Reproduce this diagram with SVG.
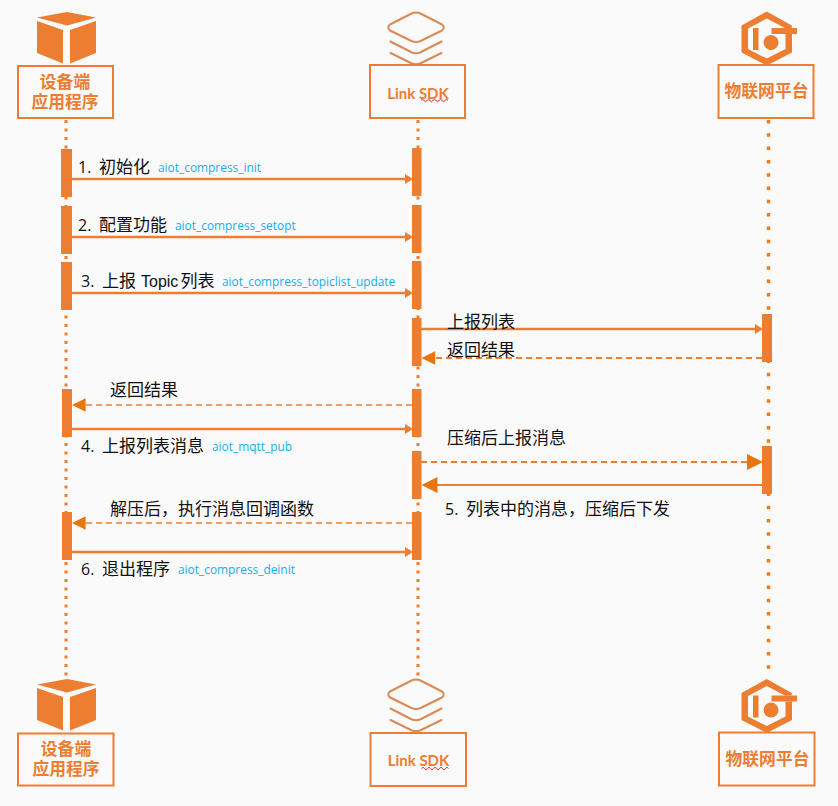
<svg xmlns="http://www.w3.org/2000/svg" width="838" height="806" viewBox="0 0 838 806">
<style>
.box{fill:none;stroke:#ed7d31;stroke-width:2}
.name{font:bold 16.800px "Liberation Sans","Noto Sans CJK SC",sans-serif;fill:#ed7d31;text-anchor:middle}
.sdk{font:bold 15px Lato,"Open Sans",sans-serif;fill:#ed7d31;text-anchor:middle}
.life{fill:none;stroke:#ed7d31;stroke-width:3;stroke-dasharray:3 5.500}
.life-far{fill:none;stroke:#f27c1c;stroke-width:3.500;stroke-dasharray:3.500 9.800}
.act{fill:#ed7d31}
.msg{fill:none;stroke:#ed7d31;stroke-width:2.500}
.ret{fill:none;stroke:#ed7d31;stroke-width:1.600;stroke-dasharray:6 4}
.lbl{font:17px "Noto Sans CJK SC",sans-serif;fill:#111}
.num{font:16px "Open Sans",sans-serif;fill:#111}
.latin{font:16px "Liberation Sans",sans-serif;fill:#111}
.api{font:11.900px "Open Sans",sans-serif;fill:#18aeee}
.ink{fill:#ed7d31}
.stack{fill:none;stroke:#d98a55;stroke-width:2;stroke-linejoin:round;stroke-linecap:round}
.wavy{fill:none;stroke:#e8262a;stroke-width:1}
</style>
<defs>
<path id="sm" d="M0 0l-8-5v10z" fill="#ed7d31"/>
<path id="big" d="M0 0l-16-8v16z" fill="#e8760a"/>
<g id="cube" class="ink">
<path d="M37 17.500L67 12L96 17.500L67 25.500Z"/>
<path d="M37 21L63 30V63.500L37 53Z"/>
<path d="M70 30L96 21V53L70 63.500Z"/>
</g>
<g id="layers" class="stack">
<path d="M411.500 13.500Q416 11.500 420.500 13.500L442 24.500Q445.500 27.500 442 30.500L420.500 41Q416 43 411.500 41L390 30.500Q386.500 27.500 390 24.500Z"/>
<path d="M390.500 41.500L412 52.500Q416 54 420 52.500L441.500 41.500"/>
<path d="M390.500 53L412 63.500Q416 65 420 63.500L441.500 53"/>
</g>
<g id="iot" class="ink">
<path d="M766.700 11.500L791.800 25.500V28H785L766.700 18.500L748 28.500V49L766.700 58.500L785.500 49V34H792V52.500L766.700 65.500L741.500 52.500V25.500Z"/>
<path d="M753 28H758.500V50H753Z"/>
<path d="M771.500 28H797V34H771.500Z"/>
<circle cx="771" cy="42.500" r="7.500"/>
</g>
<path id="wave" class="wavy" d="M0 1.500q1.500-2.500 3 0t3 0t3 0t3 0t3 0t3 0t3 0t3 0t3 0"/>
</defs>

<rect width="838" height="806" fill="#fafafa"/>

<g id="connectors">
<path class="life" d="M66 120V680"/>
<path class="life" d="M418 120V678"/>
<g id="activations" class="act">
<rect x="61" y="149" width="11" height="48"/>
<rect x="61" y="206" width="11" height="48"/>
<rect x="61" y="262" width="11" height="48"/>
<rect x="62" y="389" width="10" height="48"/>
<rect x="62" y="512" width="10" height="48"/>
<rect x="412" y="148" width="9.500" height="48"/>
<rect x="412" y="205" width="9.500" height="48"/>
<rect x="412" y="261" width="9.500" height="48"/>
<rect x="412" y="318" width="9.500" height="48"/>
<rect x="412" y="389" width="9.500" height="48"/>
<rect x="412" y="451" width="9.500" height="48"/>
<rect x="412" y="512" width="9.500" height="48"/>
<rect x="762" y="314" width="10" height="48"/>
<rect x="762" y="446" width="10" height="48"/>
</g>
<path class="life-far" d="M768.500 120V678"/>
<path class="msg" d="M72 179H406"/><use href="#sm" x="413" y="179"/>
<path class="msg" d="M72 237H406"/><use href="#sm" x="413" y="237"/>
<path class="msg" d="M72 293H406"/><use href="#sm" x="413" y="293"/>
<path class="msg" d="M421 329H756"/><use href="#sm" x="763" y="329"/>
<path class="ret" style="stroke-width:2" d="M762 358H434"/><use href="#big" transform="translate(421.500 358) rotate(180) scale(.85)"/>
<path class="ret" d="M412 405H86"/><use href="#big" transform="translate(72 405) rotate(180) scale(.85)"/>
<path class="msg" d="M72 429H406"/><use href="#sm" x="413" y="429"/>
<path class="ret" style="stroke-width:2" d="M421 462H748"/><use href="#big" x="763" y="462"/>
<path class="msg" style="stroke-width:2" d="M762 485H436"/><use href="#big" transform="translate(421.500 485) rotate(180)"/>
<path class="ret" d="M412 523H86"/><use href="#big" transform="translate(72 523) rotate(180) scale(.85)"/>
<path class="msg" d="M72 552H406"/><use href="#sm" x="413" y="552"/>
</g>

<g id="device-top">
<use href="#cube"/>
<rect class="box" x="18" y="66" width="95" height="52"/>
<text class="name"><tspan x="65" y="88">设备端</tspan><tspan x="65" y="108">应用程序</tspan></text>
</g>
<g id="sdk-top">
<use href="#layers"/>
<rect class="box" x="370" y="65" width="95" height="53"/>
<text class="sdk" x="418" y="99">Link SDK</text>
<use href="#wave" x="421" y="99"/>
</g>
<g id="platform-top">
<use href="#iot"/>
<rect class="box" x="718.500" y="65" width="95" height="53"/>
<text class="name" x="766.500" y="97">物联网平台</text>
</g>

<g id="device-bottom">
<use href="#cube" y="667"/>
<rect class="box" x="18" y="733.500" width="95.500" height="52"/>
<text class="name"><tspan x="66" y="755">设备端</tspan><tspan x="66" y="775">应用程序</tspan></text>
</g>
<g id="sdk-bottom">
<use href="#layers" y="667"/>
<rect class="box" x="370.500" y="733" width="95.500" height="53"/>
<text class="sdk" x="418.500" y="766">Link SDK</text>
<use href="#wave" x="421.500" y="767"/>
</g>
<g id="platform-bottom">
<use href="#iot" y="667.500"/>
<rect class="box" x="719" y="732.500" width="95.500" height="53"/>
<text class="name" x="767.500" y="765">物联网平台</text>
</g>

<g id="labels">
<text class="lbl" y="173"><tspan class="num" x="78">1.</tspan><tspan x="99">初始化</tspan></text><text class="api" x="158" y="172">aiot_compress_init</text>
<text class="lbl" y="231"><tspan class="num" x="78">2.</tspan><tspan x="99">配置功能</tspan></text><text class="api" x="175" y="230">aiot_compress_setopt</text>
<text class="lbl" y="287"><tspan class="num" x="81">3.</tspan><tspan x="102">上报</tspan><tspan class="latin" x="141">Topic</tspan><tspan x="180.500">列表</tspan></text><text class="api" x="222" y="286">aiot_compress_topiclist_update</text>
<text class="lbl" x="447" y="328">上报列表</text>
<text class="lbl" x="447" y="356">返回结果</text>
<text class="lbl" x="110" y="396">返回结果</text>
<text class="lbl" y="452"><tspan class="num" x="81">4.</tspan><tspan x="102">上报列表消息</tspan></text><text class="api" x="212" y="451">aiot_mqtt_pub</text>
<text class="lbl" x="447" y="444">压缩后上报消息</text>
<text class="lbl" y="515"><tspan class="num" x="445">5.</tspan><tspan x="466">列表中的消息，压缩后下发</tspan></text>
<text class="lbl" x="110" y="515">解压后，执行消息回调函数</text>
<text class="lbl" y="575"><tspan class="num" x="81">6.</tspan><tspan x="102">退出程序</tspan></text><text class="api" x="178" y="574">aiot_compress_deinit</text>
</g>
</svg>
